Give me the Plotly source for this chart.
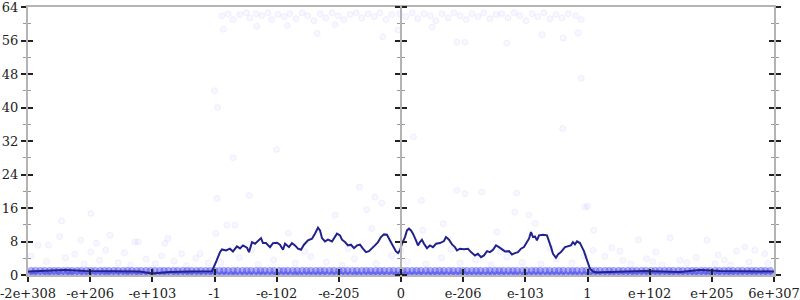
import plotly.graph_objects as go

# ---- axis ticks ----
tick_pos = list(range(13))
tick_text = ["-2e+308", "-e+206", "-e+103", "-1", "-e-102", "-e-205", "0",
             "e-206", "e-103", "1", "e+102", "e+205", "6e+307"]

# ---- moving-average line ----
line_x = [0, 0.27, 0.60, 0.92, 1.32, 1.80, 1.995, 2.28, 2.61, 2.90, 2.96, 3.035, 3.088, 3.120,
          3.185, 3.249, 3.297, 3.361, 3.410, 3.458, 3.523, 3.555, 3.603, 3.652, 3.700, 3.748,
          3.780, 3.828, 3.893, 3.941, 4.005, 4.053, 4.102, 4.134, 4.198, 4.246, 4.295, 4.343,
          4.391, 4.439, 4.504, 4.568, 4.616, 4.665, 4.697, 4.729, 4.777, 4.825, 4.890, 4.938,
          4.970, 5.019, 5.051, 5.099, 5.147, 5.195, 5.244, 5.292, 5.340, 5.388, 5.437, 5.485,
          5.533, 5.581, 5.630, 5.678, 5.726, 5.774, 5.823, 5.871, 5.919, 5.952, 5.984, 6.016,
          6.064, 6.096, 6.128, 6.161, 6.193, 6.241, 6.273, 6.305, 6.337, 6.370, 6.418, 6.466,
          6.514, 6.563, 6.627, 6.691, 6.724, 6.772, 6.820, 6.868, 6.900, 6.949, 7.013, 7.077,
          7.126, 7.190, 7.238, 7.287, 7.335, 7.383, 7.431, 7.480, 7.528, 7.576, 7.624, 7.673,
          7.737, 7.785, 7.833, 7.882, 7.930, 7.978, 8.026, 8.059, 8.091, 8.123, 8.155, 8.187,
          8.220, 8.284, 8.348, 8.380, 8.413, 8.445, 8.493, 8.525, 8.573, 8.638, 8.686, 8.734,
          8.766, 8.798, 8.831, 8.879, 8.911, 8.943, 8.975, 9.008, 9.040, 9.088, 9.152, 9.201,
          9.522, 9.924, 10.487, 10.809, 11.130, 11.533, 12.0]
line_y = [0.84, 0.96, 1.2, 0.96, 0.84, 0.84, 0.36, 0.72, 0.84, 0.84, 0.91, 3.47, 5.46, 6.11,
          5.87, 6.28, 5.63, 6.83, 6.35, 7.07, 6.51, 5.46, 7.86, 7.47, 8.26, 8.81,
          7.62, 7.62, 6.66, 7.62, 7.71, 7.23, 6.04, 7.47, 6.66, 7.62, 7.07, 6.28,
          6.04, 7.23, 8.26, 8.67, 9.87, 11.31, 10.66, 8.81, 8.02, 8.43, 8.02, 9.05,
          9.87, 9.46, 8.43, 7.86, 7.07, 7.23, 6.42, 7.07, 7.23, 6.28, 5.46, 5.70,
          6.28, 7.07, 7.86, 9.05, 9.70, 9.63, 8.26, 7.07, 5.63, 5.22, 5.87, 7.47,
          9.05, 10.66, 11.07, 10.66, 9.87, 8.26, 7.07, 7.86, 8.43, 7.47, 6.42, 7.07,
          6.66, 7.47, 7.62, 8.10, 9.05, 8.43, 7.31, 6.66, 5.87, 6.28, 6.18, 6.28,
          5.46, 4.67, 5.08, 4.26, 4.67, 5.70, 5.46, 6.04, 7.07, 6.66, 6.04, 5.63,
          5.70, 4.91, 5.22, 5.46, 6.28, 6.66, 7.86, 8.67, 10.25, 9.05, 9.22, 8.26,
          9.46, 9.63, 9.46, 8.26, 6.66, 5.08, 4.12, 4.91, 5.46, 6.66, 6.83, 7.07,
          7.86, 7.31, 8.02, 7.62, 6.66, 5.70, 4.26, 2.68, 1.49, 0.84, 0.60, 0.67,
          0.84, 0.96, 0.72, 1.20, 0.96, 0.84, 0.84]

# ---- dense rows of samples at 0 and 1 ----
row0_x = [0.02, 0.09, 0.15, 0.24, 0.31, 0.37, 0.46, 0.52, 0.61, 0.68, 0.74, 0.83, 0.90, 0.97, 1.05,
          1.12, 1.20, 1.27, 1.33, 1.42, 1.49, 1.57, 1.63, 1.72, 1.78, 1.86, 1.93, 2.01, 2.08, 2.16,
          2.22, 2.31, 2.38, 2.45, 2.53, 2.60, 2.67, 2.75, 2.82, 2.90, 2.97, 3.04, 3.12, 3.19, 3.27,
          3.33, 3.41, 3.48, 3.56, 3.63, 3.71, 3.78, 3.85, 3.93, 4.00, 4.07, 4.15, 4.22, 4.30, 4.36,
          4.44, 4.52, 4.59, 4.66, 4.74, 4.81, 4.89, 4.96, 5.03, 5.11, 5.18, 5.26, 5.32, 5.40, 5.48,
          5.55, 5.62, 5.70, 5.77, 5.85, 5.92, 5.99, 6.07, 6.14, 6.21, 6.29, 6.36, 6.44, 6.51, 6.58,
          6.66, 6.73, 6.81, 6.88, 6.95, 7.03, 7.10, 7.17, 7.25, 7.32, 7.40, 7.47, 7.54, 7.62, 7.69,
          7.77, 7.84, 7.91, 7.99, 8.06, 8.13, 8.21, 8.28, 8.36, 8.43, 8.50, 8.58, 8.65, 8.73, 8.80,
          8.87, 8.95, 9.02, 9.09, 9.17, 9.24, 9.32, 9.39, 9.46, 9.54, 9.61, 9.69, 9.76, 9.83, 9.91,
          9.98, 10.05, 10.13, 10.20, 10.28, 10.35, 10.42, 10.50, 10.57, 10.65, 10.72, 10.79, 10.87,
          10.94, 11.01, 11.09, 11.16, 11.24, 11.31, 11.38, 11.46, 11.53, 11.61, 11.68, 11.75, 11.83,
          11.90, 11.98]
row1_x = [0.05, 0.12, 0.20, 0.27, 0.35, 0.42, 0.49, 0.57, 0.64, 0.71, 0.79, 0.86, 0.94, 1.01, 1.08,
          1.16, 1.23, 1.30, 1.38, 1.45, 1.53, 1.60, 1.67, 1.75, 1.82, 1.90, 1.97, 2.04, 2.12, 2.19,
          2.26, 2.34, 2.41, 2.49, 2.56, 2.63, 2.71, 2.78, 2.86, 2.93, 3.00, 3.08, 3.15, 3.22, 3.30,
          3.37, 3.45, 3.52, 3.59, 3.67, 3.74, 3.81, 3.89, 3.96, 4.04, 4.11, 4.18, 4.26, 4.33, 4.41,
          4.48, 4.55, 4.63, 4.70, 4.77, 4.85, 4.92, 5.00, 5.07, 5.14, 5.22, 5.29, 5.37, 5.44, 5.51,
          5.59, 5.66, 5.73, 5.81, 5.88, 5.96, 6.03, 6.10, 6.18, 6.25, 6.32, 6.40, 6.47, 6.55, 6.62,
          6.69, 6.77, 6.84, 6.92, 6.99, 7.06, 7.14, 7.21, 7.28, 7.36, 7.43, 7.51, 7.58, 7.65, 7.73,
          7.80, 7.87, 7.95, 8.02, 8.10, 8.17, 8.24, 8.32, 8.39, 8.47, 8.54, 8.61, 8.69, 8.76, 8.83,
          8.91, 8.98, 9.06, 9.13, 9.20, 9.28, 9.35, 9.42, 9.50, 9.57, 9.65, 9.72, 9.79, 9.87, 9.94,
          10.02, 10.09, 10.16, 10.24, 10.31, 10.38, 10.46, 10.53, 10.61, 10.68, 10.75, 10.83, 10.90,
          10.97, 11.05, 11.12, 11.20, 11.27, 11.34, 11.42, 11.49, 11.57, 11.64, 11.71, 11.79, 11.86,
          11.94]

# ---- scattered samples ----
mid_x = [0.16, 0.33, 0.51, 0.54, 0.85, 1.01, 1.01, 1.10, 1.25, 1.32, 1.72, 1.77, 2.20, 2.25, 2.47, 2.77,
         0.30, 0.60, 0.90, 1.15, 1.45, 1.65, 1.90, 2.05, 2.35, 2.55, 2.70, 2.90, 0.05, 0.75, 1.55, 2.15,
         3.02, 3.04, 3.20, 3.33, 3.56, 4.19, 4.94, 5.33, 5.45, 5.53, 5.58, 5.69, 6.33, 6.35, 6.68, 6.90,
         7.03, 7.30, 7.54, 7.83, 7.86, 8.06, 8.16, 9.00, 9.10,
         3.10, 3.40, 3.70, 3.95, 4.30, 4.55, 4.80, 5.05, 5.25, 5.60, 5.85, 6.10, 6.40, 6.65, 6.95, 7.20,
         7.45, 7.70, 7.95, 8.25, 8.50, 8.75, 8.95, 3.60, 4.45, 5.15, 6.00, 6.80, 7.60, 8.40,
         3.00, 8.90, 3.05, 6.20, 8.60, 3.30, 4.00,
         8.96, 9.09, 9.28, 9.39, 9.52, 9.82, 9.95, 10.33, 10.49, 10.92, 11.40, 11.53, 11.69, 11.85, 9.57,
         9.70, 10.05, 10.20, 10.60, 10.75, 11.05, 11.20, 11.30, 11.60, 11.90, 10.10, 11.10]
mid_y = [7.1, 7.1, 9.2, 12.9, 8.3, 14.7, 5.5, 7.6, 5.9, 9.5, 7.9, 7.9, 7.5, 8.7, 5.1, 5.1,
         3.2, 4.1, 2.6, 3.5, 2.9, 2.4, 3.8, 2.7, 3.3, 2.2, 4.0, 2.9, 4.5, 5.0, 5.3, 4.6,
         9.9, 18.3, 11.9, 11.9, 19.0, 10.0, 14.3, 21.0, 15.6, 11.1, 18.6, 17.2, 17.8, 10.7, 12.3, 20.2,
         19.4, 19.8, 10.3, 15.0, 19.6, 14.3, 12.3, 16.4, 10.7,
         3.0, 4.2, 2.5, 3.6, 2.8, 4.4, 3.1, 2.3, 3.9, 2.7, 4.6, 3.2, 2.6, 4.1, 2.9, 3.6,
         2.4, 4.3, 3.0, 2.6, 3.8, 2.9, 4.5, 6.0, 5.6, 6.3, 5.8, 6.1, 5.5, 6.4,
         44.0, 47.0, 40.0, 33.0, 35.0, 28.0, 30.0,
         16.2, 5.9, 4.4, 6.5, 5.7, 8.4, 3.9, 8.9, 3.5, 8.3, 5.7, 6.7, 5.9, 5.1, 3.5,
         2.6, 3.2, 2.4, 2.9, 4.2, 2.7, 3.6, 2.3, 3.1, 2.8, 5.5, 4.8]

top_x = [3.12, 3.22, 3.30, 3.41, 3.51, 3.57, 3.67, 3.76, 3.86, 3.92, 4.02, 4.12, 4.21, 4.31, 4.41,
         4.50, 4.60, 4.70, 4.79, 4.89, 4.99, 5.08, 5.18, 5.28, 5.37, 5.47, 5.57, 5.66, 5.76, 5.85,
         5.98, 6.08, 6.18, 6.27, 6.37, 6.47, 6.56, 6.66, 6.76, 6.85, 6.95, 7.05, 7.14, 7.24, 7.33,
         7.43, 7.53, 7.62, 7.72, 7.82, 7.91, 8.01, 8.11, 8.20, 8.30, 8.40, 8.49, 8.59, 8.69, 8.81,
         8.90, 3.14, 3.68, 4.17, 4.65, 4.94, 5.71, 5.95, 6.50, 6.90, 7.03, 7.70, 8.27, 8.61, 8.85]
top_y = [61.9, 62.4, 61.0, 62.2, 62.6, 61.4, 62.4, 61.9, 62.6, 61.0, 62.2, 61.7, 62.4, 61.2, 62.6,
         61.9, 60.7, 62.4, 61.4, 62.6, 61.9, 61.0, 62.2, 62.6, 61.4, 62.4, 61.7, 62.6, 61.0, 62.2,
         62.4, 61.7, 62.6, 61.2, 62.4, 61.9, 60.7, 62.4, 61.4, 62.6, 61.9, 61.0, 62.4, 61.7, 62.6,
         61.2, 62.2, 62.4, 61.4, 62.6, 61.9, 60.7, 62.4, 61.7, 62.6, 61.2, 62.2, 61.4, 62.4, 61.9,
         61.0, 58.7, 59.4, 59.6, 57.7, 59.8, 56.9, 58.5, 59.2, 55.6, 55.6, 55.4, 57.4, 56.6, 57.8]

y_ticks = [0, 8, 16, 24, 32, 40, 48, 56, 64]

# ---------------------------------------------------------------
DOT_FILL = "rgba(100,100,255,0.05)"
DOT_EDGE = "rgba(100,100,255,0.08)"
AX_GREY = "#b4b4b4"
TICK_DARK = "#222222"
TICK_MINOR = "#999999"
FONT = dict(family="DejaVu Serif", size=13, color="#222222")

fig = go.Figure()

def dots(xs, ys, fill=DOT_FILL, edge=DOT_EDGE, size=6):
    fig.add_trace(go.Scatter(x=xs, y=ys, mode="markers", hoverinfo="skip",
                             marker=dict(size=size, color=fill,
                                         line=dict(color=edge, width=1)),
                             showlegend=False))

dots(row0_x, [0] * len(row0_x), fill="rgba(70,70,240,0.42)", edge="rgba(70,70,240,0.25)", size=7)
dots(row1_x, [1] * len(row1_x), fill="rgba(70,70,240,0.42)", edge="rgba(70,70,240,0.25)", size=7)
dots(mid_x, mid_y)
dots(top_x, top_y, fill="rgba(100,100,255,0.05)", edge="rgba(100,100,255,0.08)")

fig.add_trace(go.Scatter(x=line_x, y=line_y, mode="lines", hoverinfo="skip",
                         line=dict(color="#22228c", width=2), showlegend=False))

# empty traces so the extra overlay axes render
for ya in ["y2", "y3", "y4"]:
    fig.add_trace(go.Scatter(x=[], y=[], xaxis="x2" if ya == "y2" else "x", yaxis=ya,
                             showlegend=False))

minor_out = dict(dtick=4, ticks="outside", ticklen=3, tickcolor=TICK_MINOR, tickwidth=1)
minor_in = dict(dtick=4, ticks="inside", ticklen=3, tickcolor=TICK_MINOR, tickwidth=1)

common_y = dict(range=[0, 64], tickvals=y_ticks, showgrid=False, zeroline=False,
                tickcolor=TICK_DARK, tickwidth=1.5, ticklen=5, fixedrange=True,
                automargin=False)

fig.update_layout(
    width=800, height=300,
    margin=dict(l=28, r=26, t=7, b=25, pad=0),
    paper_bgcolor="white", plot_bgcolor="white",
    font=FONT,
    xaxis=dict(range=[0, 12], tickvals=tick_pos, ticktext=tick_text, showgrid=False,
               zeroline=False, showline=True, linecolor=AX_GREY, linewidth=2, mirror=True,
               ticks="outside", ticklen=5, tickwidth=1.5, tickcolor=TICK_DARK,
               tickfont=FONT, fixedrange=True, automargin=False,
               ticklabeloverflow="allow", ticklabelstandoff=0),
    xaxis2=dict(range=[0, 12], tickvals=tick_pos, overlaying="x", showticklabels=False,
                showgrid=False, zeroline=False, ticks="inside", ticklen=6, tickwidth=1.5,
                tickcolor=TICK_DARK, anchor="y2", fixedrange=True, automargin=False),
    yaxis=dict(**common_y, ticks="outside", showline=True, linecolor=AX_GREY, linewidth=2,
               mirror="ticks", tickfont=FONT, minor=minor_out, ticklabeloverflow="allow"),
    yaxis2=dict(**common_y, overlaying="y", ticks="inside", mirror="ticks",
                showticklabels=False, showline=False, minor=minor_in),
    yaxis3=dict(**common_y, overlaying="y", anchor="free", position=0.5, ticks="outside",
                showline=True, linecolor=AX_GREY, linewidth=2, showticklabels=False,
                minor=minor_out),
    yaxis4=dict(**common_y, overlaying="y", anchor="free", position=0.5, side="right",
                ticks="outside", showline=False, showticklabels=False, minor=minor_out),
)

fig.write_html("out.html")
